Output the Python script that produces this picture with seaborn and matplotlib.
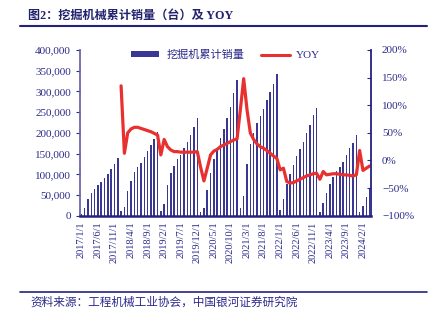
import matplotlib
matplotlib.use("Agg")
import matplotlib.pyplot as plt
import seaborn as sns
import numpy as np
import pandas as pd
from matplotlib.lines import Line2D
from matplotlib.patches import Patch
from matplotlib.ticker import FuncFormatter

# ---- data ----
sales_2017 = [5000, 18000, 40000, 54000, 65000, 74000, 82000, 92000, 101000, 112000, 125000, 140000]
sales_2018 = [11000, 20000, 60000, 85000, 105000, 118000, 128000, 141000, 155000, 171000, 186000, 203000]
sales_2019 = [12000, 29000, 74000, 102000, 121000, 137000, 146000, 163000, 179000, 195000, 214000, 236000]
sales_2020 = [8000, 18000, 63000, 103000, 138000, 163000, 188000, 209000, 235000, 263000, 295000, 327000]
sales_2021 = [18000, 48000, 126000, 172000, 200000, 223000, 241000, 258000, 279000, 298000, 318000, 342000]
sales_2022 = [15000, 40000, 77000, 101000, 122000, 143000, 160000, 179000, 199000, 219000, 243000, 260000]
sales_2023 = [9000, 31000, 56000, 77000, 93000, 108000, 118000, 130000, 147000, 163000, 176000, 194000]
sales_2024 = [10000, 23000, 46000, 66000]

yoy_2018 = [135, 13, 50, 57, 60, 60, 58, 56, 54, 52, 49, 46]
yoy_2019 = [10, 38, 25, 19, 16, 16, 15, 15, 15, 15, 15, 16]
yoy_2020 = [-12, -37, -14, 10, 17, 20, 25, 28, 31, 34, 37, 39]
yoy_2021 = [92, 148, 92, 50, 38, 30, 25, 22, 18, 13, 8, 4]
yoy_2022 = [-17, -14, -38, -41, -40, -37, -34, -31, -28, -26, -24, -23]
yoy_2023 = [-34, -20, -26, -25, -24, -24, -25, -26, -26, -27, -28, -26]
yoy_2024 = [18, -18, -14, -10]

months = pd.date_range("2017-01-01", "2024-04-01", freq="MS")
month_labels = [f"{d.year}/{d.month}/1" for d in months]

sales = sales_2017 + sales_2018 + sales_2019 + sales_2020 + sales_2021 + sales_2022 + sales_2023 + sales_2024
yoy = yoy_2018 + yoy_2019 + yoy_2020 + yoy_2021 + yoy_2022 + yoy_2023 + yoy_2024

df = pd.DataFrame({"idx": np.arange(len(sales)), "sales": sales})
df_yoy = pd.DataFrame({"idx": np.arange(12, 12 + len(yoy)), "yoy": yoy})

# ---- style ----
sns.set_style("ticks")
plt.rcParams["font.family"] = ["Liberation Serif", "Noto Sans CJK SC", "DejaVu Sans"]
plt.rcParams["axes.unicode_minus"] = True

NAVY = "#24227f"
BAR = "#3a3794"
RED = "#e8312f"
TXT = "#2b2a8a"
MIX = ["Liberation Serif", "Noto Sans CJK SC", "DejaVu Sans"]

fig = plt.figure(figsize=(4.31, 3.22), dpi=100)
ax = fig.add_axes([0.1856, 0.33, 0.675, 0.515])

sns.barplot(data=df, x="idx", y="sales", native_scale=True, color=BAR,
            width=0.45, ax=ax, saturation=1, linewidth=0)
ax.set_xlim(-0.4, 87.4)
ax.set_ylim(0, 400000)
ax.set_yticks(np.arange(0, 400001, 50000))
ax.yaxis.set_major_formatter(FuncFormatter(lambda v, p: f"{int(v):,}"))
tick_pos = list(range(0, len(sales), 5))
ax.set_xticks(tick_pos)
ax.set_xticklabels([month_labels[i] for i in tick_pos], rotation=90, fontsize=7.5, color=TXT)
ax.tick_params(axis="y", labelsize=8, colors=TXT, length=3, width=0.8)
ax.tick_params(axis="x", length=0, pad=4)
for lab in ax.get_yticklabels():
    lab.set_color(TXT)
ax.set_xlabel("")
ax.set_ylabel("")
ax.spines["top"].set_visible(False)
ax.spines["left"].set_color("#6b66ad")
ax.spines["left"].set_linewidth(1.3)
ax.spines["bottom"].set_color(NAVY)
ax.spines["bottom"].set_linewidth(1.8)
ax.spines["right"].set_visible(False)

ax2 = ax.twinx()
sns.lineplot(data=df_yoy, x="idx", y="yoy", color=RED, linewidth=2.3, ax=ax2)
ax2.set_ylim(-100, 200)
ax2.set_yticks(np.arange(-100, 201, 50))
ax2.yaxis.set_major_formatter(FuncFormatter(lambda v, p: f"{int(v)}%".replace("-", "\u2212")))
ax2.tick_params(axis="y", labelsize=8, colors=TXT, direction="in", length=3, width=0.8, pad=8)
for lab in ax2.get_yticklabels():
    lab.set_color(TXT)
ax2.set_xlabel("")
ax2.set_ylabel("")
ax2.set_xlim(-0.4, 87.4)
ax2.spines["top"].set_visible(False)
ax2.spines["left"].set_visible(False)
ax2.spines["bottom"].set_visible(False)
ax2.spines["right"].set_color(NAVY)
ax2.spines["right"].set_linewidth(1.3)

handles = [Patch(facecolor=BAR, edgecolor="none"), Line2D([0], [0], color=RED, linewidth=2.2)]
leg = ax2.legend(handles, ["挖掘机累计销量", "YOY"], loc="upper center", ncol=2, frameon=False,
                 bbox_to_anchor=(0.5, 1.06), prop={"family": MIX, "size": 8},
                 handlelength=2.6, handleheight=0.5, columnspacing=1.5, handletextpad=0.6)
for t in leg.get_texts():
    t.set_color(TXT)

fig.text(0.066, 0.95, "图2：挖掘机械累计销量（台）及 YOY", fontsize=8.7, fontweight="bold",
         color="#22216e", family=MIX, va="center", ha="left")
fig.add_artist(Line2D([0.046, 0.99], [0.918, 0.918], transform=fig.transFigure, color=NAVY, linewidth=1.5))
fig.add_artist(Line2D([0.046, 0.99], [0.094, 0.094], transform=fig.transFigure, color=NAVY, linewidth=1.2))
fig.text(0.07, 0.063, "资料来源：工程机械工业协会，中国银河证券研究院", fontsize=8.4, style="italic",
         color=TXT, family=["Noto Sans CJK SC", "DejaVu Sans"], va="center", ha="left")

fig.savefig("out.png", dpi=100)
